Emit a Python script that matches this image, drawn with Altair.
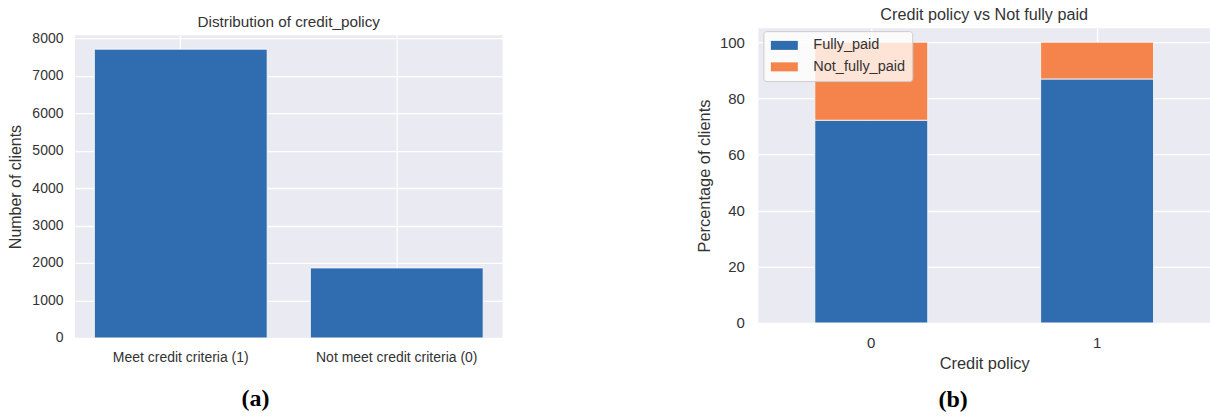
import altair as alt
import pandas as pd

# ---- data ----
policy_labels = ["Meet credit criteria (1)", "Not meet credit criteria (0)"]
policy_counts = [7710, 1868]

credit_policy = ["0", "1"]
fully_paid_pct = [72.2, 86.9]
not_fully_paid_pct = [27.8, 13.1]
status_names = ["Fully_paid", "Not_fully_paid"]

y_ticks_a = [0, 1000, 2000, 3000, 4000, 5000, 6000, 7000, 8000]
y_ticks_b = [0, 20, 40, 60, 80, 100]

BLUE = "#2F6CB0"
ORANGE = "#F4844C"
BG = "#EAEAF2"
TXT = "#333333"
FONT = "Liberation Sans"

df_a = pd.DataFrame({"policy": policy_labels, "count": policy_counts})

rows = []
for i, cp in enumerate(credit_policy):
    rows.append({"policy": cp, "status": status_names[0], "pct": fully_paid_pct[i], "ord": 0})
    rows.append({"policy": cp, "status": status_names[1], "pct": not_fully_paid_pct[i], "ord": 1})
df_b = pd.DataFrame(rows)

# ---- panel (a) ----
chart_a = alt.Chart(df_a).mark_bar(color=BLUE, stroke="white", strokeWidth=0.8).encode(
    x=alt.X("policy:N", sort=policy_labels,
            scale=alt.Scale(paddingInner=0.2, paddingOuter=0.09),
            axis=alt.Axis(title=None, labelAngle=0, labelFontSize=14, labelPadding=13,
                          labelColor=TXT, labelFont=FONT, domain=False, ticks=False,
                          grid=True, gridColor="white", gridWidth=1.3)),
    y=alt.Y("count:Q", scale=alt.Scale(domain=[0, 8085], nice=False),
            axis=alt.Axis(title="Number of clients", values=y_ticks_a, format="d",
                          labelFontSize=14, labelPadding=12, labelColor=TXT,
                          labelFont=FONT, titleFontSize=16, titleFont=FONT,
                          titleColor=TXT, titleFontWeight="normal", titlePadding=8,
                          domain=False, ticks=False, grid=True,
                          gridColor="white", gridWidth=1.3)),
).properties(width=428, height=303)

# thin invisible header strip carrying the panel title, so that panel (a)
# sits a few pixels lower than panel (b)
header_a = alt.Chart(df_a).mark_point(opacity=0, size=0).properties(
    width=428, height=1,
    view=alt.ViewBackground(fill="white", stroke="white"),
    title=alt.TitleParams("Distribution of credit_policy", fontSize=15.3,
                          font=FONT, fontWeight="normal", color=TXT, offset=0, dy=2),
)

panel_a = alt.vconcat(header_a, chart_a, spacing=0).properties(
    title=alt.TitleParams("(a)", orient="bottom", font="Liberation Serif",
                          fontSize=24, fontWeight="bold", color="black",
                          offset=22, anchor="middle")
)

# ---- panel (b) ----
chart_b = alt.Chart(df_b).mark_bar(stroke="white", strokeWidth=0.8).encode(
    x=alt.X("policy:N", sort=credit_policy,
            scale=alt.Scale(paddingInner=0.5, paddingOuter=0.25),
            axis=alt.Axis(title="Credit policy", labelAngle=0, labelFontSize=15,
                          labelPadding=13, labelColor=TXT, labelFont=FONT,
                          titleFontSize=16.4, titleFont=FONT, titleColor=TXT,
                          titleFontWeight="normal", titlePadding=5,
                          domain=False, ticks=False, grid=True,
                          gridColor="white", gridWidth=1.3)),
    y=alt.Y("pct:Q", stack="zero", scale=alt.Scale(domain=[0, 105], nice=False),
            axis=alt.Axis(title="Percentage of clients", values=y_ticks_b,
                          labelFontSize=15, labelPadding=14, labelColor=TXT,
                          labelFont=FONT, titleFontSize=16.4, titleFont=FONT,
                          titleColor=TXT, titleFontWeight="normal", titlePadding=7,
                          domain=False, ticks=False, grid=True,
                          gridColor="white", gridWidth=1.3)),
    color=alt.Color("status:N",
                    scale=alt.Scale(domain=status_names, range=[BLUE, ORANGE]),
                    legend=alt.Legend(title=None, orient="none", legendX=689, legendY=3,
                                      fillColor="rgba(255,255,255,0.78)",
                                      strokeColor="#cccccc", cornerRadius=3,
                                      padding=7, labelFontSize=14.5, labelFont=FONT,
                                      labelColor=TXT,
                                      symbolType="M-1,-0.667H3V0.667H-1Z",
                                      symbolSize=182, symbolStrokeWidth=0,
                                      labelOffset=28.5, rowPadding=6.5)),
    order=alt.Order("ord:Q", sort="ascending"),
).properties(
    width=452, height=295,
    title=alt.TitleParams("Credit policy vs Not fully paid", fontSize=16.2,
                          font=FONT, fontWeight="normal", color=TXT, offset=5),
)

panel_b = alt.vconcat(chart_b).properties(
    title=alt.TitleParams("(b)", orient="bottom", font="Liberation Serif",
                          fontSize=24, fontWeight="bold", color="black",
                          offset=16, anchor="middle")
)

chart = alt.hconcat(panel_a, panel_b, spacing=192).configure_view(
    fill=BG, stroke=None
).properties(
    padding={"left": 7, "top": 6, "right": 0, "bottom": 0},
    background="white",
)

chart.save("out.html", embed_options={"renderer": "svg", "actions": False})
